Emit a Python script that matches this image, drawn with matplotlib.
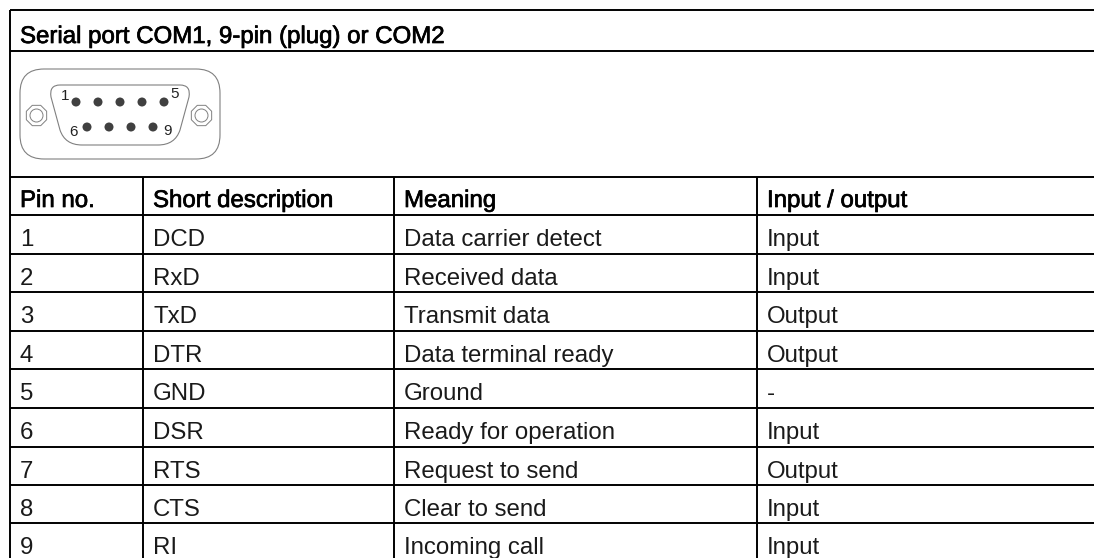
import matplotlib
matplotlib.use('Agg')
import matplotlib.pyplot as plt
import matplotlib.patheffects as pe
from matplotlib.patches import FancyBboxPatch, Circle, RegularPolygon, PathPatch
from matplotlib.path import Path

title = 'Serial port COM1, 9-pin (plug) or COM2'
headers = ['Pin no.', 'Short description', 'Meaning', 'Input / output']
pins = ['1', '2', '3', '4', '5', '6', '7', '8', '9']
short_desc = ['DCD', 'RxD', 'TxD', 'DTR', 'GND', 'DSR', 'RTS', 'CTS', 'RI']
meaning = ['Data carrier detect', 'Received data', 'Transmit data', 'Data terminal ready', 'Ground',
           'Ready for operation', 'Request to send', 'Clear to send', 'Incoming call']
direction = ['Input', 'Input', 'Output', 'Output', '-', 'Input', 'Output', 'Input', 'Input']

plt.rcParams['font.family'] = ['Liberation Sans', 'DejaVu Sans']

W, H = 1094, 558
fig = plt.figure(figsize=(W / 100, H / 100), dpi=100)
ax = fig.add_axes([0, 0, 1, 1])
ax.set_xlim(0, W)
ax.set_ylim(H, 0)
ax.axis('off')

col_x = [10, 143, 394, 757]
row_y = [177, 215, 254, 292, 331, 369, 408, 447, 485, 523]
line_kw = dict(color='black', lw=1.4, solid_capstyle='butt')

# outer frame and horizontal rules
ax.plot([10, W], [10, 10], **line_kw)
ax.plot([10, W], [51, 51], **line_kw)
ax.plot([10, 10], [10, H], **line_kw)
for y in row_y:
    ax.plot([10, W], [y, y], **line_kw)
for x in col_x[1:]:
    ax.plot([x, x], [177, H], **line_kw)

# header text is slightly thickened, not a true bold
thick = [pe.withStroke(linewidth=0.5, foreground='black')]
ax.text(20, 43, title, fontsize=17.3, va='baseline', ha='left', color='black', path_effects=thick)
for x, h in zip(col_x, headers):
    ax.text(x + 10, 207, h, fontsize=17.3, va='baseline', ha='left', color='black', path_effects=thick)

for i in range(len(pins)):
    y = row_y[i + 1] + 31
    for x, val in zip(col_x, [pins[i], short_desc[i], meaning[i], direction[i]]):
        ax.text(x + 10, y, val, fontsize=17.3, va='baseline', ha='left', color='#1a1a1a')

# connector drawing
gray = '#808080'
ax.add_patch(FancyBboxPatch((20, 69), 200, 90, boxstyle='round,pad=0,rounding_size=24',
                            fc='white', ec=gray, lw=0.8))
verts = [(60, 85), (180, 85), (191, 85), (189, 97), (180, 130), (175, 145), (158, 145),
         (82, 145), (65, 145), (60, 130), (51, 97), (49, 85), (60, 85)]
codes = [Path.MOVETO, Path.LINETO, Path.CURVE3, Path.CURVE3, Path.LINETO, Path.CURVE3, Path.CURVE3,
         Path.LINETO, Path.CURVE3, Path.CURVE3, Path.LINETO, Path.CURVE3, Path.CURVE3]
ax.add_patch(PathPatch(Path(verts, codes), fc='white', ec=gray, lw=0.8))
for x in [36.5, 201.5]:
    ax.add_patch(RegularPolygon((x, 115.5), 8, radius=11, orientation=0.39, fc='white', ec=gray, lw=0.7))
    ax.add_patch(Circle((x, 115.5), 6.5, fc='white', ec=gray, lw=0.7))
for x in [76, 98, 120, 142, 164]:
    ax.add_patch(Circle((x, 102), 4.5, fc='#404040', ec='none'))
for x in [87, 109, 131, 153]:
    ax.add_patch(Circle((x, 127), 4.5, fc='#404040', ec='none'))
ax.text(65, 96, '1', fontsize=11, ha='center', va='center', color='#222222')
ax.text(175, 94, '5', fontsize=11, ha='center', va='center', color='#222222')
ax.text(74, 132, '6', fontsize=11, ha='center', va='center', color='#222222')
ax.text(167, 131, '9', fontsize=11, ha='center', va='center', color='#222222')

fig.savefig('out.png', dpi=100, facecolor='white')
